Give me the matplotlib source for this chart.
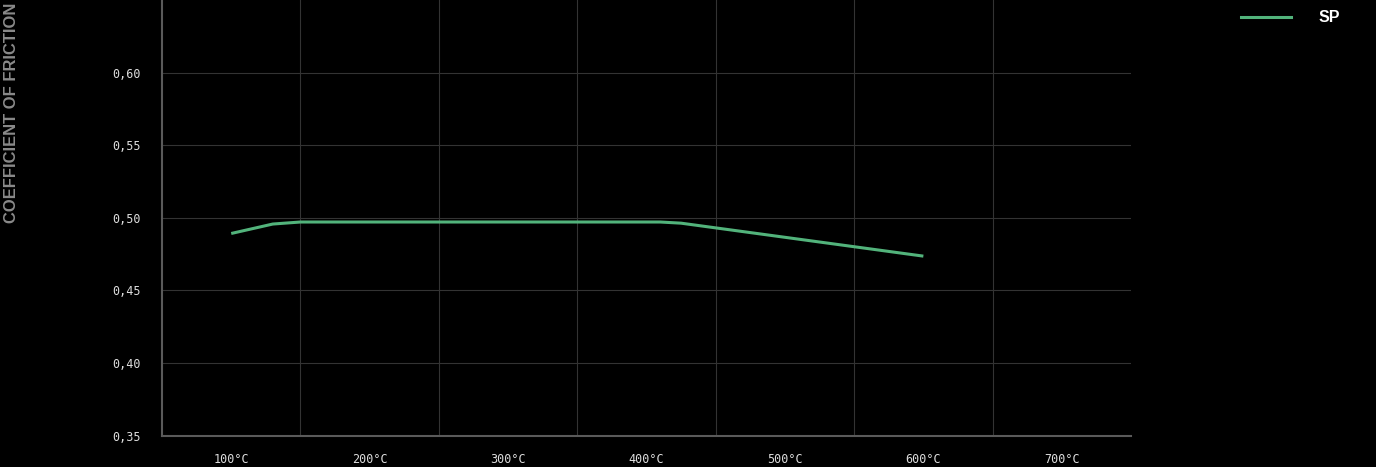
import matplotlib
matplotlib.use("Agg")
import matplotlib.pyplot as plt
from matplotlib.lines import Line2D

# Data
temps = [100, 130, 150, 410, 425, 600]          # °C
sp_values = [0.4892, 0.4957, 0.4971, 0.4971, 0.4963, 0.4736]
tick_temps = [100, 200, 300, 400, 500, 600, 700]
tick_labels = ["100°C", "200°C", "300°C", "400°C", "500°C", "600°C", "700°C"]
y_ticks = [0.35, 0.40, 0.45, 0.50, 0.55, 0.60]
y_tick_labels = ["0,35", "0,40", "0,45", "0,50", "0,55", "0,60"]
series_name = "SP"

W, H = 1376, 467
fig = plt.figure(figsize=(W / 100, H / 100), dpi=100, facecolor="black")
ax = fig.add_axes([162 / W, (H - 435.6) / H, (1131 - 162) / W, 435.6 / H])
ax.set_facecolor("black")

green = "#52b37b"
ax.plot(temps, sp_values, color=green, lw=2.2, solid_joinstyle="round",
        solid_capstyle="butt", zorder=3)

ax.set_xlim(50, 750)
ax.set_ylim(0.35, 0.65)

# grid
grid_col = "#333333"
for v in [0.40, 0.45, 0.50, 0.55, 0.60]:
    ax.axhline(v, color=grid_col, lw=0.8, zorder=1)
for g in [150, 250, 350, 450, 550, 650]:
    ax.axvline(g, color=grid_col, lw=0.8, zorder=1)

for s in ["top", "right"]:
    ax.spines[s].set_visible(False)
for s in ["left", "bottom"]:
    ax.spines[s].set_color("#5a5a5a")
    ax.spines[s].set_linewidth(1.5)

ax.set_xticks(tick_temps)
ax.set_xticklabels(tick_labels)
ax.set_yticks(y_ticks)
ax.set_yticklabels(y_tick_labels)
ax.tick_params(axis="both", length=0, colors="#dddddd", labelsize=8.5)
ax.tick_params(axis="x", pad=12.5)
ax.tick_params(axis="y", pad=15)
for lab in ax.get_xticklabels() + ax.get_yticklabels():
    lab.set_family("DejaVu Sans Mono")

fig.text(12 / W, 1 - 3 / H, "COEFFICIENT OF FRICTION", rotation=90,
         ha="center", va="top", color="#8a8a8a", fontsize=11.9,
         fontweight="bold", family="Liberation Sans")

# legend
fig.add_artist(Line2D([1241 / W, 1291 / W], [1 - 17 / H, 1 - 17 / H],
                      color=green, lw=2.2, transform=fig.transFigure))
fig.text(1319 / W, 1 - 17 / H, series_name, ha="left", va="center",
         color="white", fontsize=11.5, fontweight="bold", family="Liberation Sans")

fig.savefig("out.png", dpi=100, facecolor="black")
